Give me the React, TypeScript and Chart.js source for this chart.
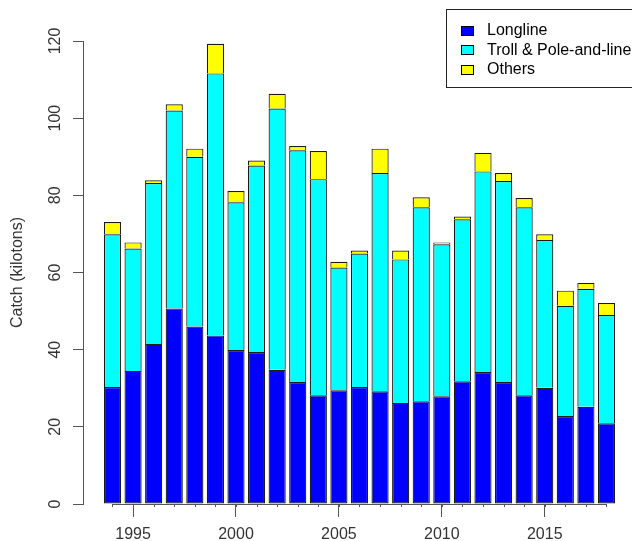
import React, { useEffect, useRef } from 'react';
import { Chart, registerables } from 'chart.js';

Chart.register(...registerables);

const years = [1994, 1995, 1996, 1997, 1998, 1999, 2000, 2001, 2002, 2003, 2004, 2005, 2006, 2007, 2008, 2009, 2010, 2011, 2012, 2013, 2014, 2015, 2016, 2017, 2018];
const longline = [30.3, 34.5, 41.5, 50.7, 46.0, 43.7, 39.9, 39.4, 34.8, 31.6, 28.2, 29.5, 30.3, 29.2, 26.2, 26.6, 27.9, 31.8, 34.2, 31.6, 28.2, 30.1, 22.8, 25.2, 20.9];
const troll = [39.6, 31.7, 41.7, 51.3, 44.0, 67.9, 38.3, 48.3, 67.7, 60.1, 56.0, 31.8, 34.6, 56.6, 37.2, 50.3, 39.4, 42.0, 52.0, 52.1, 48.7, 38.3, 28.6, 30.6, 28.1];
const others = [3.2, 1.6, 0.7, 1.6, 2.1, 7.7, 2.9, 1.3, 3.8, 1.1, 7.3, 1.5, 0.8, 6.3, 2.3, 2.6, 0.5, 0.7, 4.8, 2.1, 2.4, 1.5, 3.9, 1.5, 3.1];
const yTicks = [0, 20, 40, 60, 80, 100, 120];
const xTickYears = [1995, 2000, 2005, 2010, 2015];
const seriesLabels = ['Longline', 'Troll & Pole-and-line', 'Others'];
const seriesColors = ['#0000ff', '#00ffff', '#ffff00'];
const yTitle = 'Catch (kilotons)';

const FONT = "'Liberation Sans', Arial, sans-serif";
const AXIS = '#555555';
const TEXT = '#333333';
const EDGE = '#1a1a1a';

const extras = {
  id: 'extras',
  afterDraw(chart: any) {
    const ctx = chart.ctx;
    const xs = chart.scales.x;
    const base = chart.chartArea.bottom;
    ctx.save();
    ctx.strokeStyle = AXIS;
    ctx.lineWidth = 1;
    ctx.beginPath();
    const x0 = xs.getPixelForValue(years[0]);
    const x1 = xs.getPixelForValue(years[years.length - 1]);
    ctx.moveTo(x0, base + 0.5);
    ctx.lineTo(x1, base + 0.5);
    years.forEach((yr) => {
      const px = Math.round(xs.getPixelForValue(yr)) + 0.5;
      ctx.moveTo(px, base);
      ctx.lineTo(px, base + 3);
    });
    ctx.stroke();

    const bx = 446.5, by = 9.5, bh = 78;
    ctx.strokeStyle = '#222222';
    ctx.strokeRect(bx, by, 400, bh);
    ctx.font = `16px ${FONT}`;
    ctx.textBaseline = 'middle';
    ctx.textAlign = 'left';
    chart.data.datasets.forEach((ds: any, i: number) => {
      const cy = 30 + i * 19.5;
      ctx.fillStyle = ds.backgroundColor;
      ctx.fillRect(461.5, Math.round(cy - 4.5) + 0.5, 12, 9);
      ctx.strokeStyle = '#000000';
      ctx.strokeRect(461.5, Math.round(cy - 4.5) + 0.5, 12, 9);
      ctx.fillStyle = '#000000';
      ctx.fillText(ds.label, 487, cy + 1);
    });
    ctx.restore();
  },
};

export default function App() {
  const ref = useRef<HTMLCanvasElement | null>(null);

  useEffect(() => {
    if (!ref.current) return;
    const mk = (vals: number[]) => years.map((yr, i) => ({ x: yr, y: vals[i] }));
    const chart = new Chart(ref.current, {
      type: 'bar',
      data: {
        datasets: [
          {
            label: seriesLabels[0],
            data: mk(longline),
            backgroundColor: seriesColors[0],
            borderColor: EDGE,
            borderWidth: 1.2,
            borderSkipped: false,
          },
          {
            label: seriesLabels[1],
            data: mk(troll),
            backgroundColor: seriesColors[1],
            borderColor: EDGE,
            borderWidth: 1.2,
          },
          {
            label: seriesLabels[2],
            data: mk(others),
            backgroundColor: seriesColors[2],
            borderColor: EDGE,
            borderWidth: 1.2,
          },
        ] as any,
      },
      options: {
        responsive: false,
        animation: false,
        events: [],
        barPercentage: 1 / 1.2,
        categoryPercentage: 1,
        layout: { padding: { top: 41, right: 0, bottom: 0, left: 0 } },
        plugins: { legend: { display: false }, tooltip: { enabled: false }, title: { display: false } },
        scales: {
          x: {
            type: 'linear',
            stacked: true,
            offset: false,
            min: 1992.567,
            max: 2019.239,
            afterBuildTicks: (s: any) => {
              s.ticks = xTickYears.map((v) => ({ value: v }));
            },
            afterFit: (s: any) => {
              s.height = 37;
            },
            border: { display: false },
            grid: { offset: false, drawOnChartArea: false, drawTicks: true, tickLength: 13, color: AXIS, lineWidth: 1 },
            ticks: {
              color: TEXT,
              font: { family: FONT, size: 16 },
              padding: 8,
              maxRotation: 0,
              autoSkip: false,
              callback: (v: any) => String(v),
            },
          },
          y: {
            type: 'linear',
            stacked: true,
            min: 0,
            max: 120,
            afterBuildTicks: (s: any) => {
              s.ticks = yTicks.map((v) => ({ value: v }));
            },
            afterFit: (s: any) => {
              s.width = 83;
            },
            border: { display: true, color: AXIS, width: 1 },
            grid: { drawOnChartArea: false, drawTicks: true, tickLength: 10, color: AXIS, lineWidth: 1 },
            ticks: {
              color: TEXT,
              font: { family: FONT, size: 16 },
              padding: 4,
              minRotation: 90,
              maxRotation: 90,
              crossAlign: 'center',
              callback: (v: any) => String(v),
            },
            title: {
              display: true,
              text: yTitle,
              color: TEXT,
              font: { family: FONT, size: 16 },
              padding: { top: 8, bottom: 0 },
            },
          },
        },
      } as any,
      plugins: [extras],
    });
    return () => chart.destroy();
  }, []);

  return (
    <canvas
      ref={ref}
      width={632}
      height={541}
      style={{ position: 'absolute', left: 0, top: 0, width: 632, height: 541, display: 'block', background: '#ffffff' }}
    />
  );
}
